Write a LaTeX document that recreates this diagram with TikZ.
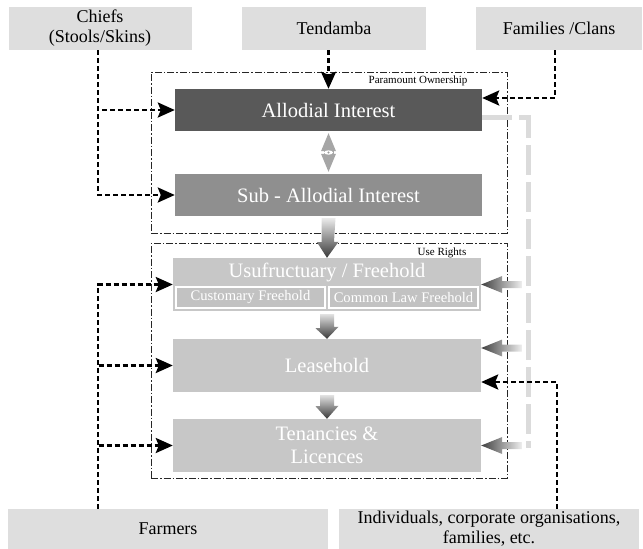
\documentclass[tikz,border=0pt]{standalone}
\usepackage{fontspec}
\setmainfont{Liberation Serif}
\usetikzlibrary{arrows.meta,calc}
\begin{document}
\begin{tikzpicture}[x=1pt,y=-1pt,
  party/.style={fill=black!13,draw=none,inner sep=0pt,minimum width=#1,
    minimum height=43pt,align=center,font=\fontsize{18}{20}\selectfont},
  frame/.style={draw=black!85,line width=0.9pt,
    dash pattern=on 7pt off 2pt on 1.5pt off 2pt,inner sep=0pt,
    minimum width=356pt},
  tierbox/.style={draw=none,inner sep=0pt,minimum width=307pt,
    minimum height=42pt,text=white,font=\fontsize{20.5}{23}\selectfont,
    align=center},
  usebox/.style={tierbox,fill=black!22,minimum width=308pt,minimum height=53pt},
  subbox/.style={fill=black!24,draw=white,line width=1.6pt,inner sep=0pt,
    minimum width=149pt,minimum height=21pt,text=white,
    font=\fontsize{14.6}{16}\selectfont},
  tag/.style={inner sep=0pt,font=\fontsize{11}{12}\selectfont},
  link/.style={draw=black,line width=2.6pt,dash pattern=on 5pt off 3pt,
    -{Stealth[length=17pt,width=15pt,inset=3pt]}},
  greyline/.style={draw=black!14,line width=5pt,dash pattern=on 30pt off 7pt},
]
\useasboundingbox (0,0) rectangle (643,549);

% holders of interest
\node[party=183pt] (chiefs) at (100,28.5) {Chiefs\\(Stools/Skins)};
\node[party=184pt] (tend) at (334,28.5) {Tendamba};
\node[party=166pt] (fam) at (559,28.5) {Families /Clans};
\node[party=320pt,minimum height=40pt] (farm) at (168,529) {Farmers};
\node[party=300pt,minimum height=40pt] (indiv) at (489,529)
  {Individuals, corporate organisations,\\families, etc.};

% paramount ownership group
\node[frame,minimum height=161pt] (para) at (329,152.5) {};
\node[tag] (paralbl) at (418,81) {Paramount Ownership};
\node[tierbox,fill=black!65] (allod) at (328.5,110) {Allodial Interest};
\node[tierbox,fill=black!44] (sub) at (328.5,195) {Sub - Allodial Interest};

% use rights group
\node[frame,minimum height=235pt] (use) at (329,360.5) {};
\node[tag] (uselbl) at (442,253) {Use Rights};
\node[usebox] (usuf) at (327,284.5) {};
\node[text=white,inner sep=0pt,font=\fontsize{20.5}{23}\selectfont]
  (usuflbl) at (327,272) {Usufructuary / Freehold};
\node[subbox] (cust) at (250.5,297.5) {Customary Freehold};
\node[subbox] (comm) at (403.5,297.5) {Common Law Freehold};
\node[usebox] (lease) at (327,365.5) {Leasehold};
\node[usebox] (ten) at (327,445.5) {Tenancies \&\\Licences};

% two-way link between allodial and sub-allodial interest
\fill[black!35] ($(allod.south)+(0,2)$) -- ++(7.5,18) -- ++(-15,0) -- cycle;
\fill[black!35] ($(sub.north)+(0,-2)$) -- ++(7.5,-18) -- ++(-15,0) -- cycle;
\fill[black!35] ($(allod.south)+(-5,20)$) rectangle ($(sub.north)+(5,-20)$);
\fill[white] ($(allod.south)!0.5!(sub.north)$) ellipse [x radius=4.5,y radius=2.2];
\fill[black!40] ($(allod.south)!0.5!(sub.north)$) circle [radius=1.1];

% grey dashed feed from allodial interest
\coordinate (gend) at (528,448);
\draw[greyline] ([yshift=-7pt]allod.east) -| (gend);

% shaded downward arrows between tiers
\shade[top color=black!8,bottom color=black!78]
  ($(sub.south)+(-7,2)$) -- ++(0,24) -- ++(-4.5,0) -- ($(usuf.north)$)
  -- ($(usuf.north)+(11.5,-16)$) -- ++(-4.5,0) -- ($(sub.south)+(7,2)$) -- cycle;
\shade[top color=black!12,bottom color=black!78]
  ($(usuf.south)+(-7,3)$) -- ++(0,14) -- ++(-4.5,0) -- ($(lease.north)$)
  -- ($(lease.north)+(11.5,-12)$) -- ++(-4.5,0) -- ($(usuf.south)+(7,3)$) -- cycle;
\shade[top color=black!12,bottom color=black!78]
  ($(lease.south)+(-7,3)$) -- ++(0,11) -- ++(-4.5,0) -- ($(ten.north)$)
  -- ($(ten.north)+(11.5,-13)$) -- ++(-4.5,0) -- ($(lease.south)+(7,3)$) -- cycle;

% shaded arrows from the grey feed into the use rights
\foreach \target/\dy in {usuf/0,lease/17.5,ten/0}{
  \shade[left color=black!75,right color=black!6]
    ($(\target.east)+(0,-\dy)$) -- ++(21,-8.5) -- ++(0,5) -- ++(20,0)
    -- ++(0,7) -- ++(-20,0) -- ++(0,5) -- cycle;
}

% dashed connectors from the holders
\draw[link] ([xshift=-2pt]chiefs.south) |- (allod.west);
\draw[link] ([xshift=-2pt]chiefs.south) |- (sub.west);
\draw[link] (allod.north |- tend.south) -- (allod.north);
\draw[link] ([xshift=-4pt]fam.south) |- ([yshift=12pt]allod.east);
\draw[link] ([xshift=-2pt]farm.north -| chiefs.south) |- (usuf.west);
\draw[link] ([xshift=-2pt]farm.north -| chiefs.south) |- (lease.west);
\draw[link] ([xshift=-2pt]farm.north -| chiefs.south) |- (ten.west);
\draw[link] ([xshift=-2pt]indiv.north -| fam.south) |- ([yshift=-16.5pt]lease.east);
\end{tikzpicture}
\end{document}
